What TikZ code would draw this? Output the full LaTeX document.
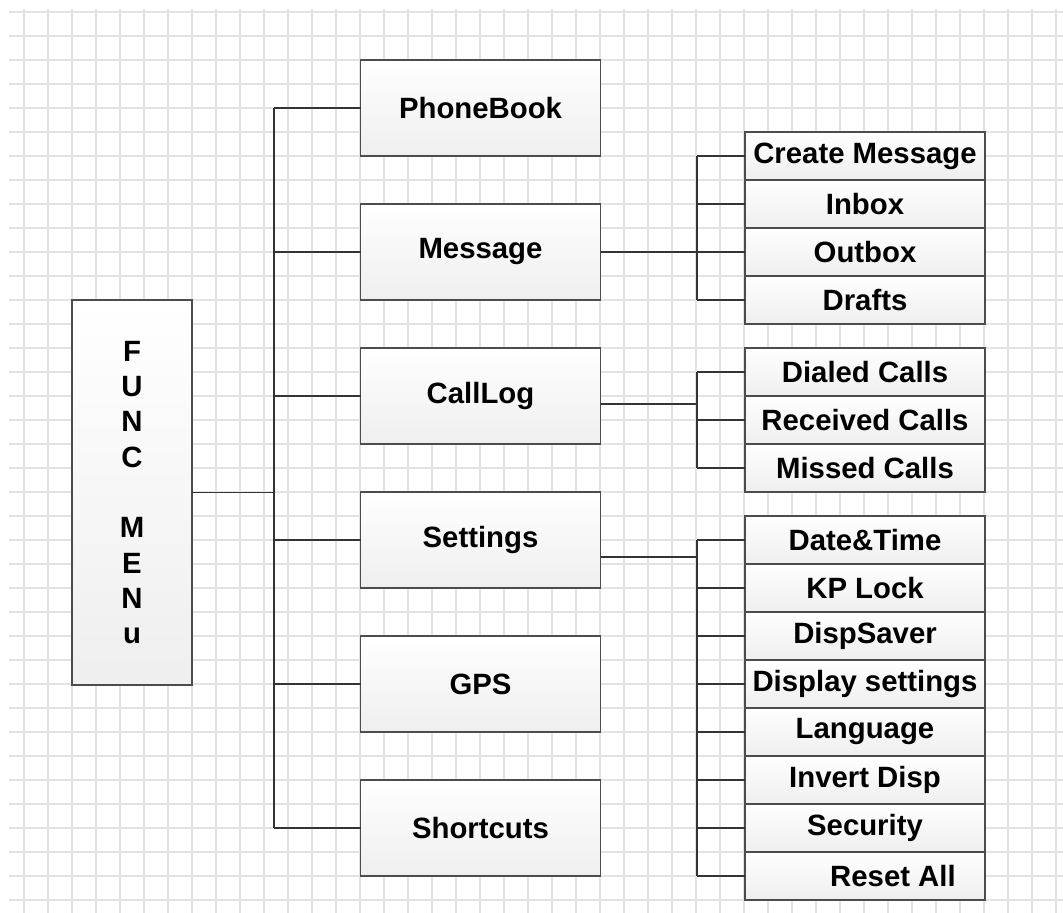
\documentclass[tikz,border=0pt]{standalone}
\usepackage{fontspec}
\setmainfont{Liberation Sans}
\usetikzlibrary{positioning}

\begin{document}
\begin{tikzpicture}[x=0.75pt,y=-0.75pt,
    gridline/.style={draw=gray!22,line width=1.1pt},
    wire/.style={draw=black!80,line width=1.3pt},
    box/.style={draw=black!70,line width=1.4pt,top color=white,bottom color=gray!13,
      minimum width=180pt,minimum height=72pt,outer sep=0pt,inner sep=0pt,
      font=\fontsize{22}{26.5}\selectfont\bfseries},
    sub/.style={box,minimum height=36pt}]
    \useasboundingbox (0,0) rectangle (1063,913);
    % 网格背景
    \foreach \y in {12,36,...,900} \draw[gridline] (9,\y) -- (1063,\y);
    \foreach \x in {24,48,...,1056} \draw[gridline] (\x,9) -- (\x,913);
    % 主菜单
    \node[box,minimum width=90pt,minimum height=288.75pt,align=center] (func) at (132,492.5)
      {F\\U\\N\\C\\[26.5pt]M\\E\\N\\u};
    % 一级菜单
    \node[box] (pb) at (480.5,108) {PhoneBook};
    \node[box,below=36pt of pb] (msg) {Message};
    \node[box,below=36pt of msg] (cl) {CallLog};
    \node[box,below=36pt of cl] (set) {Settings};
    \node[box,below=36pt of set] (gps) {GPS};
    \node[box,below=36pt of gps] (sc) {Shortcuts};
    % 短信子菜单
    \node[sub] (cm) at (865,156) {Create Message};
    \node[sub,below=0pt of cm] (ib) {Inbox};
    \node[sub,below=0pt of ib] (ob) {Outbox};
    \node[sub,below=0pt of ob] (dr) {Drafts};
    % 通话记录子菜单
    \node[sub] (dc) at (865,372) {Dialed Calls};
    \node[sub,below=0pt of dc] (rc) {Received Calls};
    \node[sub,below=0pt of rc] (mc) {Missed Calls};
    % 设置子菜单
    \node[sub] (dt) at (865,540) {Date\&Time};
    \node[sub,below=0pt of dt] (kp) {KP Lock};
    \node[sub,below=0pt of kp] (ds) {DispSaver};
    \node[sub,below=0pt of ds] (dp) {Display settings};
    \node[sub,below=0pt of dp] (lg) {Language};
    \node[sub,below=0pt of lg] (iv) {Invert Disp};
    \node[sub,below=0pt of iv] (sy) {Security};
    \node[sub,below=0pt of sy] (ra) {\hspace*{42pt}Reset All};
    % 连线
    \coordinate (tr) at (274,0);
    \coordinate (st) at (697,0);
    \draw[wire] (func.east) -- (func.east -| tr);
    \draw[wire] (pb.west -| tr) -- (sc.west -| tr);
    \foreach \n in {pb,msg,cl,set,gps,sc} \draw[wire] (\n.west -| tr) -- (\n.west);
    \draw[wire] (msg.east) -- (msg.east -| st);
    \draw[wire] ([yshift=-6pt]cl.east) -- ([yshift=-6pt]cl.east -| st);
    \draw[wire] ([yshift=-12.75pt]set.east) -- ([yshift=-12.75pt]set.east -| st);
    \draw[wire] (cm.west -| st) -- (dr.west -| st);
    \draw[wire] (dc.west -| st) -- (mc.west -| st);
    \draw[wire] (dt.west -| st) -- (ra.west -| st);
    \foreach \n in {cm,ib,ob,dr,dc,rc,mc,dt,kp,ds,dp,lg,iv,sy,ra} \draw[wire] (\n.west -| st) -- (\n.west);
\end{tikzpicture}
\end{document}
